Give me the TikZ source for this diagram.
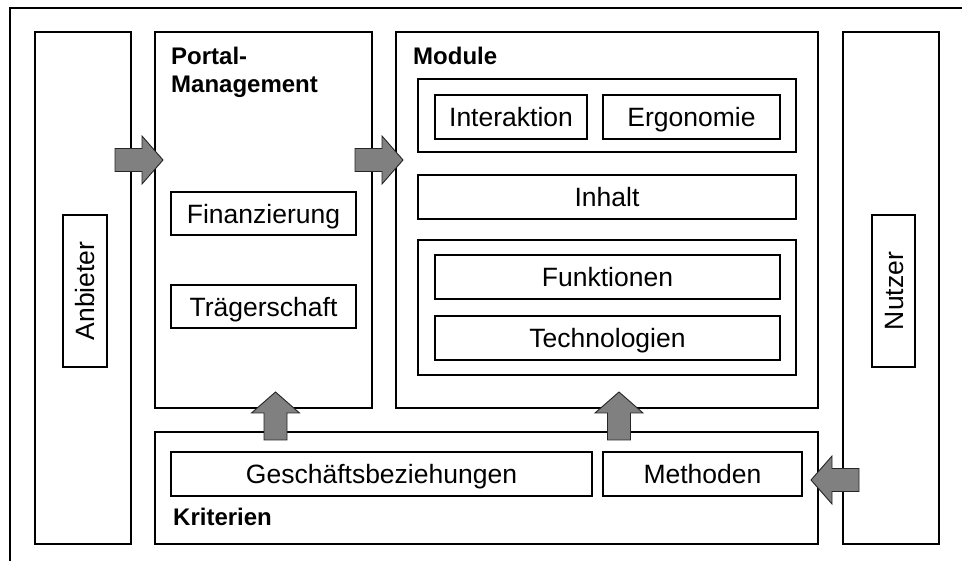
\documentclass[tikz,border=0pt]{standalone}
\usepackage{fontspec}
\setmainfont{Liberation Sans}
\definecolor{arrgray}{HTML}{808080}
\tikzset{
  bigbox/.style={draw, line width=2pt, fill=white, inner sep=0pt},
  groupbox/.style={draw, line width=2pt, inner sep=0pt},
  smallbox/.style={draw, line width=1.3pt, fill=white, inner sep=0pt, text height=19.5pt, text depth=0pt, font=\fontsize{26.5}{30}\selectfont},
  heading/.style={inner sep=0pt, font=\fontsize{24}{28}\selectfont\bfseries, align=left},
  blockarrow/.style={fill=arrgray, draw=black!85, line width=0.9pt, line join=miter}
}
\newcommand{\blockarr}[2]{%
  \begin{scope}[shift={(#1)}, rotate=#2]
    \filldraw[blockarrow] (-24,-11.5) -- (3,-11.5) -- (3,-24) -- (24,0) -- (3,24) -- (3,11.5) -- (-24,11.5) -- cycle;
  \end{scope}}
\begin{document}
\begin{tikzpicture}[x=1pt, y=-1pt]
\useasboundingbox (0,0) rectangle (962,561);
\clip (0,0) rectangle (962,561);
\fill[white] (0,0) rectangle (962,561);
% outer frame (cut at right and bottom)
\draw[line width=2pt] (10,8) rectangle (990,590);

% columns
\node[bigbox, minimum width=96, minimum height=512] (anb) at (83,288) {};
\node[bigbox, minimum width=217, minimum height=376] (portal) at (263.5,220) {};
\node[bigbox, minimum width=422, minimum height=376] (module) at (607,220) {};
\node[bigbox, minimum width=96, minimum height=512] (nutzer) at (891,288) {};
\node[bigbox, minimum width=663, minimum height=112] (krit) at (486.5,488) {};

% headings
\node[heading, anchor=base west] (portlab) at (171,65) {Portal-};
\node[heading, anchor=base west] (manlab) at (171,93) {Management};
\node[heading, anchor=base west] (modlab) at (413,65) {Module};
\node[heading, anchor=base west] (kritlab) at (173,525) {Kriterien};

% Anbieter / Nutzer labels
\node[smallbox, rotate=90, minimum width=152, minimum height=44] (anbt) at (85,291) {Anbieter};
\node[smallbox, rotate=90, minimum width=152, minimum height=43] (nutt) at (893.5,291) {Nutzer};

% Portal-Management
\node[smallbox, minimum width=185, minimum height=43] (fin) at (263.5,213.5) {Finanzierung};
\node[smallbox, minimum width=185, minimum height=43] (traeg) at (263.5,306.5) {Trägerschaft};

% Module
\node[groupbox, minimum width=378, minimum height=73] (ig) at (607,115.5) {};
\node[smallbox, minimum width=152, minimum height=44] (inter) at (511,117) {Interaktion};
\node[smallbox, minimum width=177, minimum height=44] (ergo) at (691.5,117) {Ergonomie};
\node[smallbox, minimum width=378, minimum height=44] (inh) at (607,197) {Inhalt};
\node[draw, line width=1.3pt, inner sep=0pt, minimum width=378, minimum height=135] (fg) at (607,307.5) {};
\node[smallbox, minimum width=345, minimum height=44] (funk) at (607.5,277) {Funktionen};
\node[smallbox, minimum width=345, minimum height=44] (tech) at (607.5,338) {Technologien};

% Kriterien
\node[smallbox, minimum width=421, minimum height=44] (gesch) at (381.5,474) {Geschäftsbeziehungen};
\node[smallbox, minimum width=199, minimum height=44] (meth) at (702.5,474) {Methoden};

% block arrows
\coordinate (a1) at (139,160);
\coordinate (a2) at (379,160);
\coordinate (a3) at (275.5,416);
\coordinate (a4) at (619,416);
\coordinate (a5) at (835,480);
\blockarr{a1}{0}
\blockarr{a2}{0}
\blockarr{a3}{90}
\blockarr{a4}{90}
\blockarr{a5}{180}
\end{tikzpicture}
\end{document}
